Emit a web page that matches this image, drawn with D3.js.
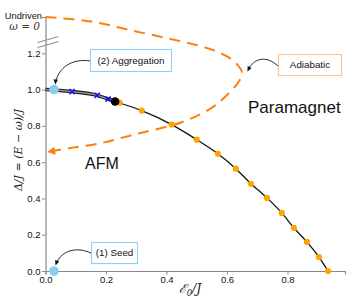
<!DOCTYPE html>
<html><head><meta charset="utf-8">
<script src="https://cdn.jsdelivr.net/npm/d3@7"></script>
<style>
body{margin:0;background:#fff;}
svg{display:block;font-family:"Liberation Sans",Arial,sans-serif;}
</style></head><body>
<svg id="c" width="357" height="306"></svg>
<script>
// ---- data ----
const curveX = [0, 0.028, 0.088, 0.171, 0.207, 0.23, 0.245, 0.318, 0.417, 0.5, 0.57, 0.629, 0.679, 0.732, 0.781, 0.821, 0.864, 0.904, 0.934];
const curveY = [1.0, 0.998, 0.989, 0.968, 0.948, 0.934, 0.926, 0.884, 0.807, 0.724, 0.646, 0.564, 0.481, 0.403, 0.320, 0.238, 0.160, 0.077, 0.0];
const aggX = [0, 0.028, 0.088, 0.171, 0.207, 0.23];
const aggY = [1.0, 0.998, 0.989, 0.968, 0.948, 0.934];
const crossX = [0.088, 0.171, 0.207];
const crossY = [0.989, 0.968, 0.948];
const orangeX = [0.245, 0.318, 0.417, 0.5, 0.57, 0.629, 0.679, 0.732, 0.781, 0.821, 0.864, 0.904, 0.934];
const orangeY = [0.928, 0.884, 0.807, 0.724, 0.646, 0.564, 0.481, 0.403, 0.320, 0.238, 0.160, 0.077, 0.0];
const endPoint = [0.23, 0.934];
const aggPoint = [0.028, 1.0];
const seedPoint = [0.028, 0.0];
const adiaX = [0.0, 0.15, 0.30, 0.45, 0.55, 0.62, 0.65, 0.635, 0.60, 0.55, 0.45, 0.30, 0.17, 0.09, 0.012];
const adiaY = [1.40, 1.375, 1.32, 1.265, 1.22, 1.16, 1.09, 1.035, 0.97, 0.90, 0.82, 0.755, 0.70, 0.68, 0.658];
const xTicks = [0.0, 0.2, 0.4, 0.6, 0.8];
const xTickLabels = ["0.0", "0.2", "0.4", "0.6", "0.8"];
const yTicks = [0.0, 0.2, 0.4, 0.6, 0.8, 1.0, 1.2];
const yTickLabels = ["0.0", "0.2", "0.4", "0.6", "0.8", "1.0", "1.2"];
const undrivenLevel = 1.40;
const breakLevel = 1.262;

// ---- layout ----
const svg = d3.select("#c");
const x = d3.scaleLinear().domain([0, 0.99]).range([45.5, 345]);
const y = d3.scaleLinear().domain([0, 1.40]).range([271, 17]);
const pts = (xs, ys) => xs.map((v, i) => [v, ys[i]]);

// axes
const spine = "#8a8a8a";
const xAxis = d3.axisBottom(x).tickValues(xTicks).tickFormat((d, i) => xTickLabels[i]).tickSizeOuter(0).tickSize(3.5).tickPadding(2);
const gx = svg.append("g").attr("transform", `translate(0,${y(0)})`).call(xAxis);
gx.select(".domain").attr("stroke", spine).attr("stroke-width", 1.2);
gx.selectAll(".tick line").attr("stroke", spine);
gx.selectAll(".tick text").attr("font-size", 9.5).attr("fill", "#111").attr("font-family", "Liberation Sans, Arial, sans-serif");

const yAxis = d3.axisLeft(y).tickValues(yTicks.concat([undrivenLevel])).tickFormat((d, i) => i < yTickLabels.length ? yTickLabels[i] : "").tickSizeOuter(0).tickSize(3.5).tickPadding(1.5);
const gy = svg.append("g").attr("transform", `translate(${x(0)},0)`).call(yAxis);
gy.select(".domain").attr("stroke", spine).attr("stroke-width", 1.2);
gy.selectAll(".tick line").attr("stroke", spine);
gy.selectAll(".tick text").attr("font-size", 9.5).attr("fill", "#111").attr("font-family", "Liberation Sans, Arial, sans-serif");

// undriven tick label
svg.append("text").attr("x", 42).attr("y", y(undrivenLevel) + 2).attr("text-anchor", "end")
  .attr("font-size", 9.3).attr("fill", "#111").text("Undriven");
svg.append("text").attr("x", 40).attr("y", y(undrivenLevel) + 12.5).attr("text-anchor", "end")
  .attr("font-size", 10.5).attr("font-family", "DejaVu Serif, serif").attr("font-style", "italic").attr("fill", "#333").text("ω = 0");

// axis break marks
const by = y(breakLevel);
[-2.5, 2.5].forEach(o => {
  svg.append("line").attr("x1", x(0) - 8).attr("x2", x(0) + 13).attr("y1", by + o + 3).attr("y2", by + o - 3)
    .attr("stroke", spine).attr("stroke-width", 1);
});

// axis labels
svg.append("text").attr("transform", `translate(22,150) rotate(-90)`).attr("text-anchor", "middle")
  .attr("font-family", "DejaVu Serif, serif").attr("font-style", "italic").attr("font-size", 11).attr("fill", "#222")
  .text("Δ/J = (E − ω)/J");
const xl = svg.append("text").attr("x", 190).attr("y", 293).attr("text-anchor", "middle")
  .attr("font-family", "DejaVu Serif, serif").attr("font-style", "italic").attr("font-size", 12.5).attr("fill", "#222");
xl.append("tspan").text("ℰ");
xl.append("tspan").attr("font-size", 8.5).attr("dy", 3).text("0");
xl.append("tspan").attr("dy", -3).text("/J");

// adiabatic dashed curve
const adiaPts = pts(adiaX, adiaY);
const orangeLine = "#ff7f0e";
svg.append("path").attr("d", d3.line().x(d => x(d[0])).y(d => y(d[1])).curve(d3.curveCatmullRom.alpha(0.5))(adiaPts))
  .attr("fill", "none").attr("stroke", orangeLine).attr("stroke-width", 2).attr("stroke-dasharray", "11,7");
// arrowhead at end
{
  const a = adiaPts[adiaPts.length - 2], b = adiaPts[adiaPts.length - 1];
  const ang = Math.atan2(y(b[1]) - y(a[1]), x(b[0]) - x(a[0]));
  const tx = x(b[0]) - 2, ty = y(b[1]) + 0.5;
  svg.append("path").attr("d", "M0,0 L-8,-4 L-8,4 Z").attr("fill", orangeLine)
    .attr("transform", `translate(${tx},${ty}) rotate(${ang * 180 / Math.PI})`);
}

// theory black curve
const line = d3.line().x(d => x(d[0])).y(d => y(d[1])).curve(d3.curveMonotoneX);
svg.append("path").attr("d", line(pts(curveX, curveY))).attr("fill", "none").attr("stroke", "#111").attr("stroke-width", 1.3);
// aggregation band
svg.append("path").attr("d", line(pts(aggX, aggY))).attr("fill", "none").attr("stroke", "#222").attr("stroke-width", 3.6);
svg.append("path").attr("d", line(pts(aggX, aggY))).attr("fill", "none").attr("stroke", "#9a9a9a").attr("stroke-width", 1.2);

// markers
svg.append("g").selectAll("path").data(pts(crossX, crossY)).join("path")
  .attr("d", "M-2.6,-2.6L2.6,2.6M-2.6,2.6L2.6,-2.6").attr("stroke", "#1010ff").attr("stroke-width", 1.5)
  .attr("transform", d => `translate(${x(d[0])},${y(d[1])})`);
svg.append("g").selectAll("circle").data(pts(orangeX, orangeY)).join("circle")
  .attr("cx", d => x(d[0])).attr("cy", d => y(d[1])).attr("r", 3.1).attr("fill", "#ffa500");
svg.append("circle").attr("cx", x(endPoint[0])).attr("cy", y(endPoint[1])).attr("r", 4.3).attr("fill", "#000");
const lb = "#87cdf2";
svg.append("circle").attr("cx", x(aggPoint[0])).attr("cy", y(aggPoint[1])).attr("r", 4.8).attr("fill", lb);
svg.append("circle").attr("cx", x(seedPoint[0])).attr("cy", y(seedPoint[1])).attr("r", 4.8).attr("fill", lb);

// region labels
svg.append("text").attr("x", 102).attr("y", 169).attr("text-anchor", "middle").attr("font-size", 16).attr("fill", "#111").text("AFM");
svg.append("text").attr("x", 248).attr("y", 113).attr("font-size", 17).attr("fill", "#111").text("Paramagnet");

// annotations
function annot(bx, by, bw, bh, label, stroke, arrowPath, tip) {
  svg.append("path").attr("d", arrowPath).attr("fill", "none").attr("stroke", "#111").attr("stroke-width", 0.9);
  const [tx, ty, ang] = tip;
  svg.append("path").attr("d", "M0,0 L-5,-2.2 L-5,2.2 Z").attr("fill", "#111")
    .attr("transform", `translate(${tx},${ty}) rotate(${ang})`);
  svg.append("rect").attr("x", bx).attr("y", by).attr("width", bw).attr("height", bh)
    .attr("fill", "#fff").attr("stroke", stroke).attr("stroke-width", 1.1);
  svg.append("text").attr("x", bx + bw / 2).attr("y", by + bh / 2 + 3.4).attr("text-anchor", "middle")
    .attr("font-size", 9.8).attr("fill", "#111").text(label);
}
annot(90.5, 49.5, 81, 22, "(2) Aggregation", "#8fd0f3",
  "M90,61 C72,58 58,68 55.5,83", [55.3, 84.5, 95]);
annot(278.5, 54.5, 63, 21, "Adiabatic", "#f9c48e",
  "M278,66 C266,55 254,58 248,70", [247.5, 71.5, 115]);
annot(91.5, 242.5, 46, 21, "(1) Seed", "#8fd0f3",
  "M91,253 C78,247 62,249 56,264", [55.6, 265.5, 108]);
</script>
</body></html>
